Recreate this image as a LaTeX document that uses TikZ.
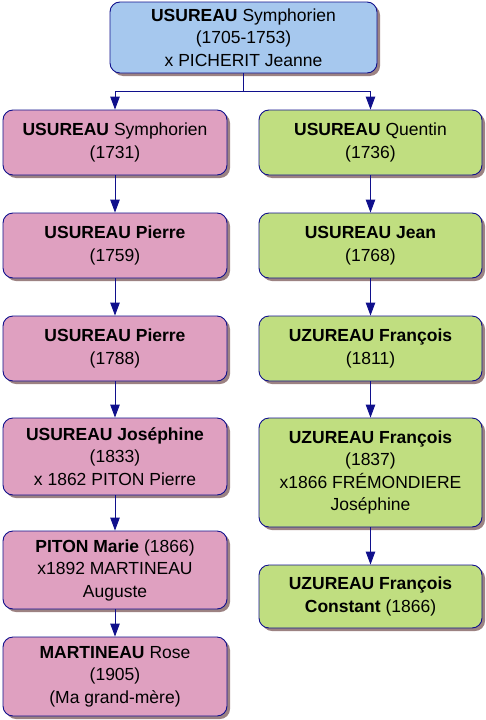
\documentclass[tikz,border=0pt]{standalone}
\usepackage{fontspec}
\setmainfont{Liberation Sans}
\usetikzlibrary{arrows.meta,shadows}
\definecolor{boxline}{HTML}{10108C}
\definecolor{shadowc}{HTML}{9C8282}
\definecolor{bluefill}{HTML}{A6C8EE}
\definecolor{pinkfill}{HTML}{DFA0C0}
\definecolor{greenfill}{HTML}{C0DE80}
\tikzset{
  person/.style={rectangle, rounded corners=10pt, draw=boxline, line width=0.9pt,
    inner sep=0pt, align=center, text=black,
    font=\fontsize{17.5pt}{22.5pt}\selectfont,
    drop shadow={shadow xshift=3pt, shadow yshift=-3pt, fill=shadowc, opacity=1}},
  topbox/.style={person, fill=bluefill, minimum width=267pt},
  pinkbox/.style={person, fill=pinkfill, minimum width=224pt},
  greenbox/.style={person, fill=greenfill, minimum width=223pt},
  arr/.style={draw=boxline, line width=0.9pt, -{Triangle[length=13pt,width=9.5pt]}},
  link/.style={draw=boxline, line width=0.9pt}
}
\begin{document}
\begin{tikzpicture}[x=1pt,y=-1pt]
\useasboundingbox (0,0) rectangle (486,720);
\node[topbox, minimum height=71pt] (top) at (243.5,37.5)
  {\textbf{USUREAU} Symphorien\\(1705-1753)\\x PICHERIT Jeanne};
% left column
\node[pinkbox, minimum height=65pt] (l1) at (115,142.5)
  {\textbf{USUREAU} Symphorien\\(1731)};
\node[pinkbox, minimum height=65pt] (l2) at (115,245.5)
  {\textbf{USUREAU Pierre}\\(1759)};
\node[pinkbox, minimum height=65pt] (l3) at (115,348.5)
  {\textbf{USUREAU Pierre}\\(1788)};
\node[pinkbox, minimum height=77pt] (l4) at (115,456.5)
  {\textbf{USUREAU Joséphine}\\(1833)\\x 1862 PITON Pierre};
\node[pinkbox, minimum height=78pt] (l5) at (115,570)
  {\textbf{PITON Marie} (1866)\\x1892 MARTINEAU\\Auguste};
\node[pinkbox, minimum height=79pt] (l6) at (115,676.5)
  {\textbf{MARTINEAU} Rose\\(1905)\\(Ma grand-mère)};
% right column
\node[greenbox, minimum height=65pt] (r1) at (370.5,142.5)
  {\textbf{USUREAU} Quentin\\(1736)};
\node[greenbox, minimum height=65pt] (r2) at (370.5,245.5)
  {\textbf{USUREAU Jean}\\(1768)};
\node[greenbox, minimum height=65pt] (r3) at (370.5,348.5)
  {\textbf{UZUREAU François}\\(1811)};
\node[greenbox, minimum height=109pt] (r4) at (370.5,472.5)
  {\textbf{UZUREAU François}\\(1837)\\x1866 FRÉMONDIERE\\Joséphine};
\node[greenbox, minimum height=63pt] (r5) at (370.5,596.5)
  {\textbf{UZUREAU François}\\\textbf{Constant} (1866)};
% connectors
\coordinate (j) at ([yshift=-18pt]top.south);
\draw[link] (top.south) -- (j);
\draw[arr] (j) -| (l1.north);
\draw[arr] (j) -| (r1.north);
\draw[arr] (l1) -- (l2);
\draw[arr] (l2) -- (l3);
\draw[arr] (l3) -- (l4);
\draw[arr] (l4) -- (l5);
\draw[arr] (l5) -- (l6);
\draw[arr] (r1) -- (r2);
\draw[arr] (r2) -- (r3);
\draw[arr] (r3) -- (r4);
\draw[arr] (r4) -- (r5);
\end{tikzpicture}
\end{document}
